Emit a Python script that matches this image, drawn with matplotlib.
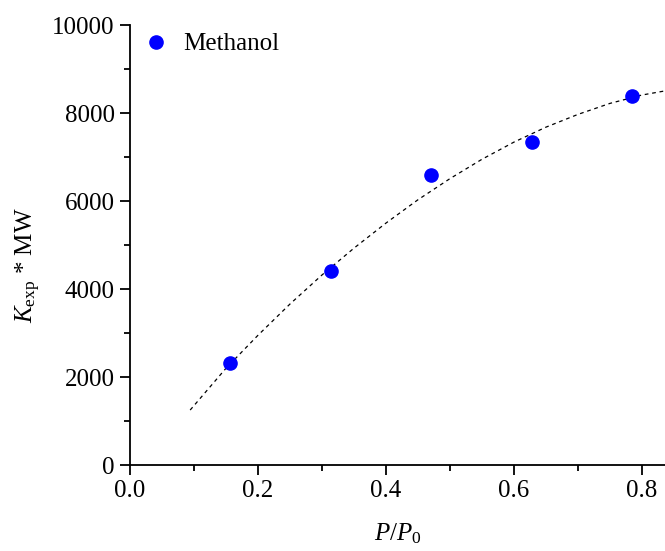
import matplotlib
matplotlib.use("Agg")
import matplotlib.pyplot as plt
import numpy as np

# Methanol data points
p_ratio = [0.157, 0.314, 0.471, 0.628, 0.785]
k_mw = [2320, 4410, 6590, 7340, 8390]

# dashed fit curve
fit_x = [0.094, 0.15, 0.2, 0.25, 0.3, 0.35, 0.4, 0.45, 0.5, 0.55,
         0.6, 0.65, 0.7, 0.75, 0.8, 0.85]
fit_y = [1250, 2200, 2950, 3660, 4320, 4930, 5500, 6030, 6510, 6950,
         7340, 7680, 7970, 8220, 8410, 8540]

plt.rcParams['font.family'] = 'Liberation Serif'
plt.rcParams['mathtext.fontset'] = 'custom'
plt.rcParams['mathtext.rm'] = 'Liberation Serif'
plt.rcParams['mathtext.it'] = 'Liberation Serif:italic'

fig = plt.figure(figsize=(6.65, 5.51), dpi=100)
ax = fig.add_axes([0.1955, 0.156, 0.8045, 0.7985])

ax.plot(fit_x, fit_y, color='black', lw=0.9, ls=(0, (3, 3)))
ax.plot(p_ratio, k_mw, 'o', color='#0000ff', ms=9.5, mec='#0000ff',
        label='Methanol')

ax.set_xlim(0, 0.836)
ax.set_ylim(0, 10000)
ax.set_xticks([0.0, 0.2, 0.4, 0.6, 0.8])
ax.set_xticks(np.arange(0.1, 0.85, 0.2), minor=True)
ax.set_yticks(range(0, 10001, 2000))
ax.set_yticks(range(1000, 10000, 2000), minor=True)
ax.set_xticklabels(['0.0', '0.2', '0.4', '0.6', '0.8'])

for s in ['top', 'right']:
    ax.spines[s].set_visible(False)
for s in ['left', 'bottom']:
    ax.spines[s].set_linewidth(1.3)

ax.tick_params(which='major', direction='out', length=7, width=1.3,
               labelsize=18, pad=4)
ax.tick_params(which='minor', direction='out', length=4, width=1.3)

ax.set_xlabel('$P/P_0$', fontsize=18, labelpad=14)
ax.set_ylabel('$K_{\\rm exp}$ * MW', fontsize=18, labelpad=7)
ax.yaxis.label.set_y(0.455)

ax.legend(loc='upper left', frameon=False, fontsize=18, handletextpad=0.5,
          borderaxespad=0.3, handlelength=1.2, bbox_to_anchor=(-0.012, 1.022))

fig.savefig('out.png', dpi=100)
